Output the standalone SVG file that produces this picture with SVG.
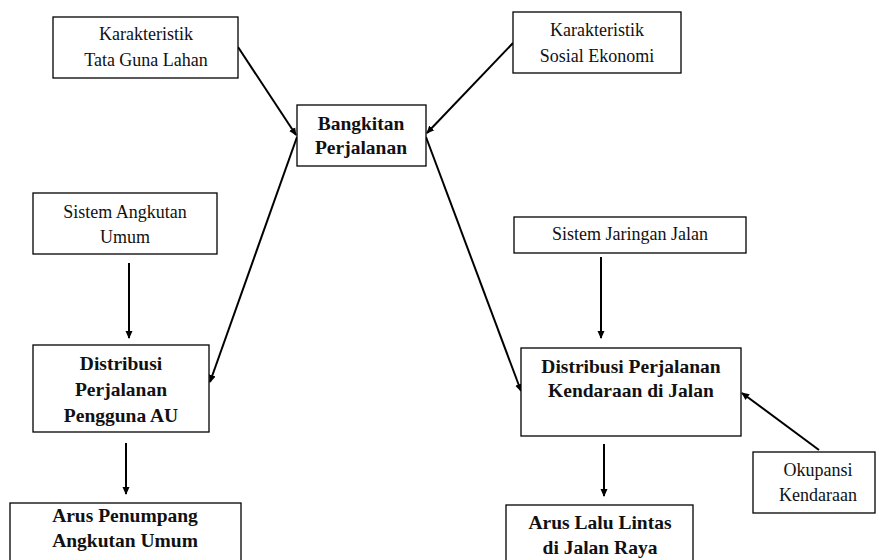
<svg xmlns="http://www.w3.org/2000/svg" width="876" height="560" viewBox="0 0 876 560">
  <defs>
    <marker id="arrow" markerWidth="8" markerHeight="8" refX="7" refY="4" orient="auto" markerUnits="userSpaceOnUse">
      <path d="M0,0.5 L8,4 L0,7.5 Z" fill="#000"/>
    </marker>
    <style>
      .box { fill: #fff; stroke: #000; stroke-width: 1.3; }
      .t { font-family: "Liberation Serif", serif; font-size: 18px; text-anchor: middle; fill: #111; }
      .b { font-family: "Liberation Serif", serif; font-size: 19.5px; font-weight: bold; text-anchor: middle; fill: #111; }
      .edge { stroke: #000; stroke-width: 2; fill: none; marker-end: url(#arrow); }
    </style>
  </defs>
  <rect width="876" height="560" fill="#fff"/>

  <g id="connectors">
    <line class="edge" x1="238" y1="47" x2="296" y2="135"/>
    <line class="edge" x1="513" y1="43" x2="427" y2="133"/>
    <line class="edge" x1="297" y1="137" x2="210" y2="382"/>
    <line class="edge" x1="426" y1="137" x2="521" y2="391"/>
    <line class="edge" x1="129" y1="263" x2="129" y2="338"/>
    <line class="edge" x1="126" y1="443" x2="126" y2="494"/>
    <line class="edge" x1="601" y1="257" x2="601" y2="338"/>
    <line class="edge" x1="604" y1="444" x2="604" y2="496"/>
    <line class="edge" x1="819" y1="450" x2="742" y2="393"/>
  </g>

  <g id="tata-guna-lahan">
    <rect class="box" x="53" y="17" width="185" height="61"/>
    <text class="t" x="146" y="40">Karakteristik</text>
    <text class="t" x="146" y="66">Tata Guna Lahan</text>
  </g>

  <g id="sosial-ekonomi">
    <rect class="box" x="513" y="12" width="168" height="61"/>
    <text class="t" x="597" y="36">Karakteristik</text>
    <text class="t" x="597" y="62">Sosial Ekonomi</text>
  </g>

  <g id="bangkitan">
    <rect class="box" x="297" y="105" width="129" height="61"/>
    <text class="b" x="361" y="130">Bangkitan</text>
    <text class="b" x="361" y="154">Perjalanan</text>
  </g>

  <g id="sistem-angkutan">
    <rect class="box" x="33" y="193" width="184" height="61"/>
    <text class="t" x="125" y="218">Sistem Angkutan</text>
    <text class="t" x="125" y="243">Umum</text>
  </g>

  <g id="distribusi-au">
    <rect class="box" x="33" y="345" width="176" height="87"/>
    <text class="b" x="121" y="370">Distribusi</text>
    <text class="b" x="121" y="396">Perjalanan</text>
    <text class="b" x="121" y="422">Pengguna AU</text>
  </g>

  <g id="arus-penumpang">
    <rect class="box" x="10" y="503" width="231" height="70"/>
    <text class="b" x="125" y="522">Arus Penumpang</text>
    <text class="b" x="125" y="547">Angkutan Umum</text>
  </g>

  <g id="sistem-jaringan">
    <rect class="box" x="514" y="217" width="232" height="36"/>
    <text class="t" x="630" y="240">Sistem Jaringan Jalan</text>
  </g>

  <g id="distribusi-kendaraan">
    <rect class="box" x="521" y="348" width="220" height="88"/>
    <text class="b" x="631" y="373">Distribusi Perjalanan</text>
    <text class="b" x="631" y="397">Kendaraan di Jalan</text>
  </g>

  <g id="arus-lalu-lintas">
    <rect class="box" x="506" y="505" width="187" height="70"/>
    <text class="b" x="600" y="529">Arus Lalu Lintas</text>
    <text class="b" x="600" y="554">di Jalan Raya</text>
  </g>

  <g id="okupansi">
    <rect class="box" x="753" y="452" width="122" height="61"/>
    <text class="t" x="818" y="476">Okupansi</text>
    <text class="t" x="818" y="501">Kendaraan</text>
  </g>
</svg>
